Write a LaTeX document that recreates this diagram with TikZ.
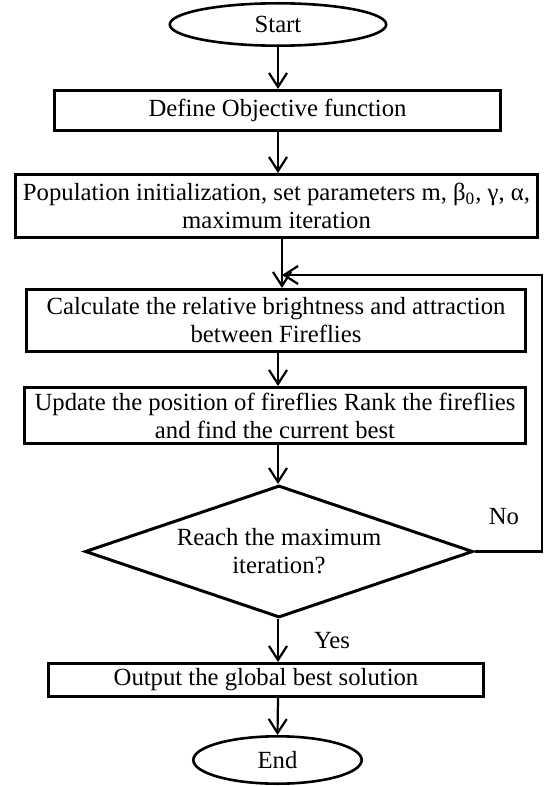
\documentclass[tikz,border=0pt]{standalone}
\usepackage{fontspec}
\setmainfont{Liberation Serif}
\usetikzlibrary{shapes.geometric,arrows.meta}
\begin{document}
\begin{tikzpicture}[x=0.5pt,y=-0.5pt]
\tikzstyle{every node}=[font=\fontsize{12.35}{14}\selectfont,align=center,inner sep=0pt];
\tikzstyle{box}=[draw,line width=1.5pt,shape=rectangle];
\tikzstyle{term}=[draw,line width=1.3pt,shape=ellipse];
\tikzstyle{flow}=[line width=1.1pt,-{Straight Barb[length=7pt,width=9pt,line width=1.1pt]}];
\useasboundingbox (0,0) rectangle (544,786);
\node[term,minimum width=108.2pt,minimum height=21.2pt] (start) at (278,24.5) {Start};
\node[box,minimum width=223pt,minimum height=20pt] (obj) at (277.5,110.5) {Define Objective function};
\node[box,minimum width=261pt,minimum height=31.5pt] (init) at (276.5,206) {Population initialization, set parameters m, β\textsubscript{0}, γ, α,\\maximum iteration};
\node[box,minimum width=249.5pt,minimum height=31pt] (calc) at (276,320.5) {Calculate the relative brightness and attraction\\between Fireflies};
\node[box,minimum width=250.5pt,minimum height=28pt] (upd) at (275,415.5) {Update the position of fireflies Rank the fireflies\\and find the current best};
\node[draw,line width=1.5pt,shape=diamond,aspect=2.9,minimum width=194pt,minimum height=66pt] (dec) at (279,551.5) {Reach the maximum\\iteration?};
\node[box,minimum width=217.5pt,minimum height=16.5pt] (out) at (266,680) {Output the global best solution};
\node[term,minimum width=84.2pt,minimum height=23.7pt] (end) at (277.5,760) {End};
\node (no) at (504,517) {No};
\node (yes) at (332,641) {Yes};
\coordinate (turn) at (542,275);
\coordinate (back) at (282,275);
\draw[flow](start.south) -- (start.south |- obj.north);
\draw[flow](obj.south -| start.south) -- (start.south |- init.north);
\draw[flow](init.south -| back) -- (back |- calc.north);
\draw[flow](calc.south -| start.south) -- (start.south |- upd.north);
\draw[flow](upd.south -| start.south) -- (start.south |- dec.north);
\draw[flow](dec.south -| start.south) -- (start.south |- out.north);
\draw[flow](out.south -| start.south) -- (end.north);
\draw[flow](dec.east) -| (turn) -- (back);
\end{tikzpicture}
\end{document}
